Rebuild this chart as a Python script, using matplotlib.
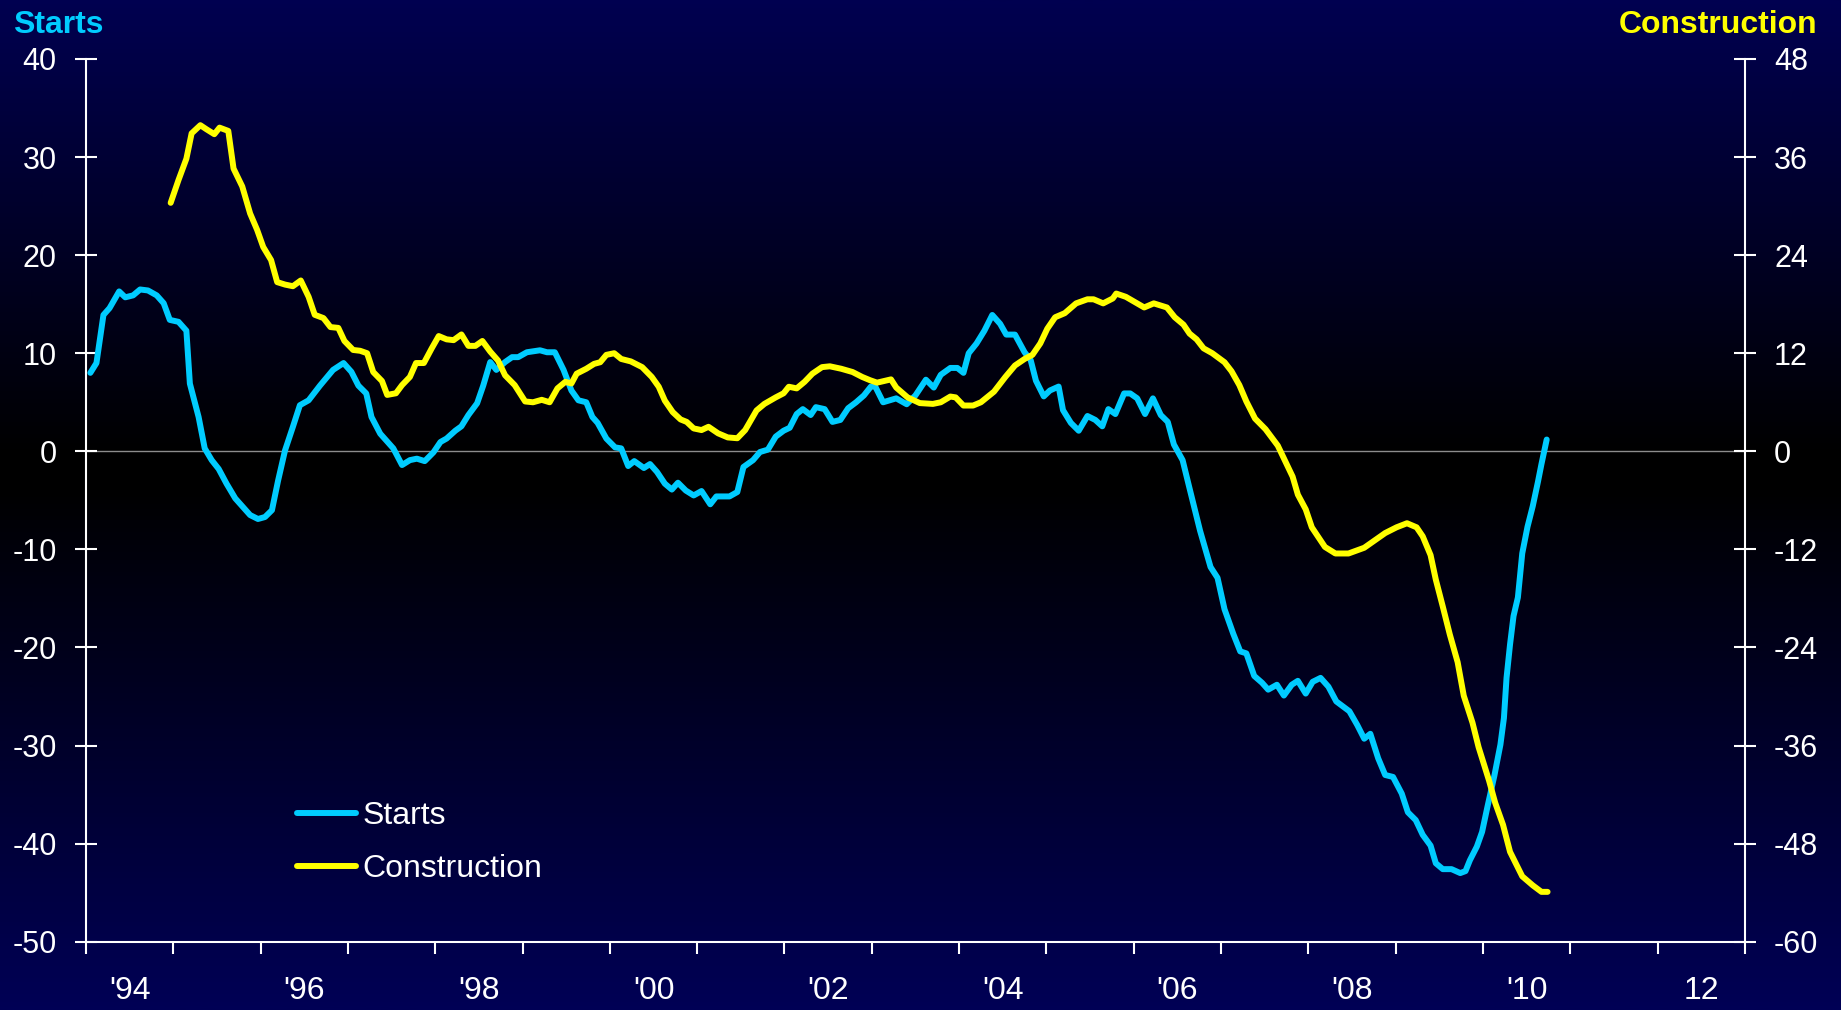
import matplotlib.pyplot as plt
from matplotlib.colors import LinearSegmentedColormap
import numpy as np

plt.rcParams['font.family'] = ['Liberation Sans', 'DejaVu Sans']
plt.rcParams['axes.unicode_minus'] = False

# housing starts, % y/y (left axis)
starts_year = [
    1994.05, 1994.12, 1994.20, 1994.27, 1994.38, 1994.45, 1994.54, 1994.62, 1994.71, 1994.81, 1994.89, 1994.96,
    1995.06, 1995.15, 1995.19, 1995.29, 1995.36, 1995.44, 1995.52, 1995.61, 1995.71, 1995.80, 1995.88, 1995.97,
    1996.05, 1996.13, 1996.20, 1996.28, 1996.37, 1996.45, 1996.55, 1996.68, 1996.83, 1996.95,
    1997.04, 1997.12, 1997.21, 1997.27, 1997.37, 1997.52, 1997.62, 1997.71, 1997.79, 1997.88, 1997.98,
    1998.06, 1998.13, 1998.23, 1998.30, 1998.38, 1998.48, 1998.55, 1998.63, 1998.70, 1998.80, 1998.88, 1998.95,
    1999.05, 1999.20, 1999.28, 1999.37, 1999.47, 1999.56, 1999.64, 1999.73, 1999.80, 1999.86, 1999.96,
    2000.06, 2000.13, 2000.21, 2000.28, 2000.39, 2000.46, 2000.54, 2000.63, 2000.71, 2000.78, 2000.87, 2000.96,
    2001.05, 2001.15, 2001.22, 2001.37, 2001.46, 2001.53, 2001.64, 2001.72, 2001.81, 2001.90, 2001.99,
    2002.06, 2002.14, 2002.21, 2002.30, 2002.36, 2002.46, 2002.55, 2002.64, 2002.73, 2002.82, 2002.91, 2002.99,
    2003.04, 2003.13, 2003.28, 2003.40, 2003.50, 2003.62, 2003.71, 2003.79, 2003.90, 2003.98,
    2004.05, 2004.11, 2004.20, 2004.29, 2004.38, 2004.47, 2004.54, 2004.64, 2004.75, 2004.82, 2004.88, 2004.97,
    2005.04, 2005.14, 2005.19, 2005.28, 2005.37, 2005.47, 2005.56, 2005.64, 2005.71, 2005.79, 2005.89, 2005.96,
    2006.04, 2006.13, 2006.22, 2006.31, 2006.39, 2006.46, 2006.56, 2006.64, 2006.76, 2006.88, 2006.96,
    2007.04, 2007.14, 2007.22, 2007.29, 2007.38, 2007.47, 2007.54, 2007.64, 2007.72, 2007.81, 2007.88, 2007.97,
    2008.05, 2008.14, 2008.23, 2008.32, 2008.47, 2008.56, 2008.64, 2008.71, 2008.80, 2008.88, 2008.97,
    2009.07, 2009.14, 2009.23, 2009.31, 2009.40, 2009.46, 2009.54, 2009.64, 2009.74, 2009.80, 2009.85, 2009.93, 2009.99,
    2010.05, 2010.13, 2010.20, 2010.24, 2010.27, 2010.31, 2010.35, 2010.40, 2010.45, 2010.51, 2010.57, 2010.63, 2010.67, 2010.73]
starts_pct = [
    8.0, 9.0, 13.9, 14.6, 16.3, 15.7, 15.9, 16.5, 16.4, 15.9, 15.1, 13.4,
    13.2, 12.3, 6.9, 3.5, 0.3, -0.9, -1.8, -3.3, -4.8, -5.7, -6.5, -6.9,
    -6.7, -6.0, -3.0, 0.1, 2.5, 4.7, 5.2, 6.7, 8.3, 9.0,
    8.1, 6.7, 5.9, 3.5, 1.8, 0.3, -1.4, -0.9, -0.75, -1.0, -0.1,
    0.95, 1.3, 2.1, 2.55, 3.7, 4.9, 6.7, 9.1, 8.3, 9.1, 9.6, 9.6,
    10.1, 10.3, 10.1, 10.1, 8.3, 6.2, 5.2, 5.0, 3.5, 2.9, 1.3,
    0.4, 0.3, -1.5, -1.0, -1.7, -1.3, -2.1, -3.3, -3.9, -3.2, -4.0, -4.5,
    -4.05, -5.4, -4.6, -4.6, -4.15, -1.6, -0.9, -0.07, 0.17, 1.5, 2.1,
    2.4, 3.8, 4.3, 3.7, 4.5, 4.3, 3.0, 3.2, 4.4, 5.0, 5.7, 6.6,
    6.6, 5.0, 5.4, 4.8, 5.7, 7.3, 6.5, 7.8, 8.5, 8.5,
    8.0, 10.0, 11.0, 12.3, 13.9, 13.0, 11.9, 11.9, 10.1, 9.3, 7.2, 5.6,
    6.2, 6.6, 4.2, 2.9, 2.1, 3.6, 3.2, 2.55, 4.3, 3.8, 5.9, 5.9,
    5.4, 3.8, 5.4, 3.7, 3.0, 0.7, -0.9, -3.8, -8.1, -11.8, -12.9,
    -16.1, -18.6, -20.4, -20.6, -22.9, -23.6, -24.3, -23.8, -24.9, -23.8, -23.4, -24.7,
    -23.5, -23.1, -24.0, -25.5, -26.5, -27.9, -29.3, -28.8, -31.3, -33.0, -33.2,
    -34.9, -36.8, -37.6, -39.1, -40.2, -42.0, -42.6, -42.6, -43.0, -42.8, -41.7, -40.3, -38.8,
    -36.3, -33.1, -29.9, -27.2, -23.1, -19.7, -16.8, -14.9, -10.4, -7.7, -5.6, -3.1, -1.3, 1.2]

# construction, % y/y (right axis)
constr_year = [
    1994.97, 1995.06, 1995.15, 1995.21, 1995.31, 1995.38, 1995.47, 1995.53, 1995.63, 1995.69, 1995.79, 1995.88, 1995.96,
    1996.03, 1996.12, 1996.19, 1996.28, 1996.37, 1996.46, 1996.55, 1996.62, 1996.72, 1996.80, 1996.89, 1996.96,
    1997.06, 1997.14, 1997.22, 1997.29, 1997.39, 1997.45, 1997.55, 1997.62, 1997.71, 1997.78, 1997.87, 1997.96,
    1998.04, 1998.13, 1998.21, 1998.30, 1998.38, 1998.46, 1998.54, 1998.63, 1998.72, 1998.80, 1998.91,
    1999.03, 1999.12, 1999.22, 1999.31, 1999.40, 1999.49, 1999.56, 1999.62, 1999.73, 1999.82, 1999.89, 1999.96,
    2000.05, 2000.13, 2000.24, 2000.37, 2000.48, 2000.56, 2000.63, 2000.72, 2000.81, 2000.88, 2000.96,
    2001.05, 2001.13, 2001.24, 2001.35, 2001.46, 2001.55, 2001.68, 2001.77, 2001.90, 2001.99,
    2002.05, 2002.14, 2002.23, 2002.32, 2002.43, 2002.52, 2002.65, 2002.78, 2002.89, 2002.98,
    2003.06, 2003.22, 2003.28, 2003.41, 2003.55, 2003.70, 2003.79, 2003.90, 2003.96,
    2004.05, 2004.16, 2004.25, 2004.40, 2004.53, 2004.64, 2004.75, 2004.84, 2004.93,
    2005.01, 2005.10, 2005.21, 2005.34, 2005.47, 2005.54, 2005.65, 2005.76, 2005.80, 2005.91,
    2006.04, 2006.12, 2006.23, 2006.38, 2006.47, 2006.57, 2006.64, 2006.72, 2006.80, 2006.90,
    2007.04, 2007.12, 2007.21, 2007.29, 2007.39, 2007.51, 2007.65, 2007.73, 2007.82, 2007.88, 2007.97,
    2008.04, 2008.19, 2008.31, 2008.46, 2008.64, 2008.76, 2008.88,
    2009.01, 2009.13, 2009.24, 2009.31, 2009.40, 2009.46, 2009.54, 2009.62, 2009.71, 2009.78, 2009.88, 2009.95,
    2010.07, 2010.14, 2010.23, 2010.31, 2010.45, 2010.57, 2010.67, 2010.74]
constr_pct = [
    30.4, 33.2, 35.8, 38.9, 39.9, 39.4, 38.8, 39.6, 39.2, 34.6, 32.4, 29.1, 27.1,
    25.0, 23.4, 20.7, 20.4, 20.2, 20.9, 18.9, 16.7, 16.3, 15.2, 15.1, 13.5,
    12.4, 12.3, 12.0, 9.7, 8.6, 6.9, 7.1, 8.1, 9.1, 10.8, 10.8, 12.6,
    14.1, 13.7, 13.6, 14.3, 12.9, 12.9, 13.5, 12.2, 11.1, 9.3, 8.1,
    6.1, 6.0, 6.3, 6.0, 7.7, 8.5, 8.3, 9.5, 10.1, 10.7, 10.9, 11.8,
    12.0, 11.3, 11.0, 10.3, 9.1, 7.9, 6.2, 4.8, 3.9, 3.6, 2.8,
    2.6, 3.0, 2.2, 1.7, 1.6, 2.6, 5.0, 5.8, 6.6, 7.1,
    7.9, 7.7, 8.5, 9.5, 10.3, 10.4, 10.1, 9.7, 9.1, 8.7,
    8.4, 8.8, 7.8, 6.6, 5.9, 5.8, 6.0, 6.7, 6.6,
    5.6, 5.6, 6.0, 7.3, 9.1, 10.5, 11.3, 11.8, 13.2,
    15.0, 16.4, 16.9, 18.1, 18.6, 18.6, 18.1, 18.7, 19.3, 18.9,
    18.1, 17.6, 18.1, 17.6, 16.4, 15.5, 14.4, 13.7, 12.6, 12.0,
    10.9, 9.8, 8.1, 6.1, 4.0, 2.7, 0.7, -1.1, -3.1, -5.3, -7.1,
    -9.3, -11.7, -12.5, -12.5, -11.8, -10.9, -10.0,
    -9.3, -8.8, -9.3, -10.4, -12.7, -15.7, -19.0, -22.4, -25.8, -29.9, -33.2, -36.2,
    -40.3, -43.0, -45.7, -49.0, -52.0, -53.1, -53.9, -53.9]

year_ticks = list(range(1994, 2014))
label_pos = [y + 0.5 for y in range(1994, 2013, 2)]
year_labels = ["'94", "'96", "'98", "'00", "'02", "'04", "'06", "'08", "'10", "12"]
left_ticks = list(range(-50, 41, 10))
right_ticks = list(range(-60, 49, 12))

NAVY = '#000055'
CYAN = '#00CCFF'
YELLOW = '#FFFF00'

fig = plt.figure(figsize=(18.41, 10.10), dpi=100)
fig.patch.set_facecolor(NAVY)

# backdrop: navy top and bottom, black band around the zero line
bg = fig.add_axes([0, 0, 1, 1], zorder=0)
shade = LinearSegmentedColormap.from_list(
    'shade', [(0, '#000050'), (0.45, '#000000'), (0.48, '#000000'), (1, NAVY)])
bg.imshow(np.linspace(0, 1, 600).reshape(-1, 1), cmap=shade, aspect='auto',
          extent=[0, 1, 0, 1], vmin=0, vmax=1)
bg.axis('off')

ax = fig.add_axes([0.0467, 0.0676, 0.9011, 0.8740], zorder=1)
ax.patch.set_alpha(0)
ax2 = ax.twinx()
ax2.set_zorder(2)

ax.axhline(0, color='#8c8c8c', lw=1.0, zorder=1)
l1, = ax.plot(starts_year, starts_pct, color=CYAN, lw=4.3,
              solid_joinstyle='round', solid_capstyle='round', zorder=3)
l2, = ax2.plot(constr_year, constr_pct, color=YELLOW, lw=4.3,
               solid_joinstyle='round', solid_capstyle='round', zorder=3)

ax.set_xlim(1994, 2013)
ax.set_ylim(-50, 40)
ax2.set_ylim(-60, 48)

ax.set_xticks(year_ticks, labels=[''] * len(year_ticks))
ax.set_xticks(label_pos, labels=year_labels, minor=True)
ax.tick_params(axis='x', which='major', direction='out', length=8.5, width=1.5, color='white')
ax.tick_params(axis='x', which='minor', length=0, pad=25, labelcolor='white', labelsize=23)
for t in ax.get_xticklabels(minor=True):
    t.set_family(['Liberation Sans Narrow', 'Liberation Sans'])

ax.set_yticks(left_ticks)
ax2.set_yticks(right_ticks)
for a in (ax, ax2):
    a.tick_params(axis='y', direction='inout', length=16, width=1.5, color='white',
                  labelcolor='white', labelsize=22, pad=13)

for side in ('top', 'right'):
    ax.spines[side].set_visible(False)
for side in ('top', 'left', 'bottom'):
    ax2.spines[side].set_visible(False)
for sp in (ax.spines['left'], ax.spines['bottom'], ax2.spines['right']):
    sp.set_color('white')
    sp.set_linewidth(1.5)

fig.text(13 / 1841, 1 - 33 / 1010, 'Starts', color=CYAN, fontsize=23,
         fontweight='bold', ha='left', va='baseline')
fig.text(1817 / 1841, 1 - 33 / 1010, 'Construction', color=YELLOW, fontsize=23,
         fontweight='bold', ha='right', va='baseline')

fig.legend([l1, l2], ['Starts', 'Construction'], loc='upper left',
           bbox_to_anchor=(297 / 1841, 1 - 801 / 1010), frameon=False,
           fontsize=23, labelcolor='white', handlelength=1.85, handletextpad=0.2,
           labelspacing=0.72, borderpad=0, borderaxespad=0)

fig.savefig('out.png', dpi=100, facecolor=NAVY)
